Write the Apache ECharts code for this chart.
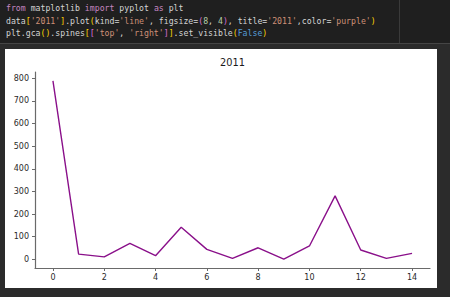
<!DOCTYPE html>
<html>
<head>
<meta charset="utf-8">
<script src="https://cdn.jsdelivr.net/npm/echarts@6/dist/echarts.min.js"></script>
<style>
html,body{margin:0;padding:0;background:#2b2b2b;}
#chart{width:450px;height:297px;}
</style>
</head>
<body>
<div id="chart"></div>
<script>
// Data
const xValues = [0, 1, 2, 3, 4, 5, 6, 7, 8, 9, 10, 11, 12, 13, 14];
const values2011 = [788, 23, 11, 70, 16, 142, 44, 4, 51, 1, 59, 280, 41, 4, 26];
const xTickLabels = [0, 2, 4, 6, 8, 10, 12, 14];
const yTickLabels = [0, 100, 200, 300, 400, 500, 600, 700, 800];
const chartTitle = '2011';

// matplotlib-like 5% margins
const xMinD = Math.min(...xValues), xMaxD = Math.max(...xValues);
const yMinD = Math.min(...values2011), yMaxD = Math.max(...values2011);
const xPad = (xMaxD - xMinD) * 0.05, yPad = (yMaxD - yMinD) * 0.05;

const chart = echarts.init(document.getElementById('chart'), null, {renderer: 'svg'});

const mono = '"DejaVu Sans Mono", "Liberation Mono", monospace';
const codeFs = 8.2;
const C = {kw:'#c586c0', tx:'#d4d4d4', st:'#ce9178', b1:'#ffd700', b2:'#da70d6', nm:'#b5cea8', bl:'#569cd6'};
function seg(s, k){ return '{' + k + '|' + s + '}'; }
const rich = {};
Object.keys(C).forEach(k => { rich[k] = {fill: C[k], fontFamily: mono, fontSize: codeFs}; });

const line1 = seg('from','kw') + seg(' matplotlib ','tx') + seg('import','kw') + seg(' pyplot ','tx') + seg('as','kw') + seg(' plt','tx');
const line2 = seg('data','tx') + seg('[','b1') + seg("'2011'",'st') + seg(']','b1') + seg('.plot','tx') + seg('(','b1') +
  seg('kind=','tx') + seg("'line'",'st') + seg(', figsize=','tx') + seg('(','b2') + seg('8','nm') + seg(', ','tx') + seg('4','nm') +
  seg(')','b2') + seg(', title=','tx') + seg("'2011'",'st') + seg(',color=','tx') + seg("'purple'",'st') + seg(')','b1');
const line3 = seg('plt.gca','tx') + seg('()','b1') + seg('.spines','tx') + seg('[','b1') + seg('[','b2') + seg("'top'",'st') +
  seg(', ','tx') + seg("'right'",'st') + seg(']','b2') + seg(']','b1') + seg('.set_visible','tx') + seg('(','b1') + seg('False','bl') + seg(')','b1');

const axisColor = '#6a6a6a';
const labelColor = '#2a2a2a';
const sansFont = '"DejaVu Sans", sans-serif';

chart.setOption({
  backgroundColor: '#2b2b2b',
  animation: false,
  graphic: [
    {type:'rect', z:-100, shape:{x:0,y:0,width:450,height:43}, style:{fill:'#1f1f1f'}},
    {type:'rect', z:-100, shape:{x:0,y:43,width:450,height:1}, style:{fill:'#454545'}},
    {type:'rect', z:-100, shape:{x:399,y:0,width:1,height:43}, style:{fill:'#3a3a3a'}},
    {type:'rect', z:-100, shape:{x:5,y:49,width:432,height:239}, style:{fill:'#ffffff'}},
    {type:'text', z:10, style:{x:6, y:8, text: line1, rich: rich, verticalAlign:'middle', textVerticalAlign:'middle'}},
    {type:'text', z:10, style:{x:6, y:20.6, text: line2, rich: rich, verticalAlign:'middle', textVerticalAlign:'middle'}},
    {type:'text', z:10, style:{x:6, y:33.2, text: line3, rich: rich, verticalAlign:'middle', textVerticalAlign:'middle'}},
    {type:'text', z:10, style:{x:232.5, y:62, text: chartTitle, fill:'#1a1a1a', font: '9.8px ' + sansFont, align:'center', verticalAlign:'middle', textAlign:'center', textVerticalAlign:'middle'}}
  ],
  grid: {left: 35, right: 20, top: 72, bottom: 29, containLabel: false},
  xAxis: {
    type: 'value',
    min: xMinD - xPad,
    max: xMaxD + xPad,
    splitLine: {show: false},
    axisLine: {show: true, onZero: false, lineStyle: {color: axisColor, width: 1.2}},
    axisTick: {show: true, length: 3, customValues: xTickLabels, lineStyle: {color: axisColor}},
    axisLabel: {customValues: xTickLabels, color: labelColor, fontSize: 8, fontFamily: sansFont, margin: 5}
  },
  yAxis: {
    type: 'value',
    min: yMinD - yPad,
    max: yMaxD + yPad,
    splitLine: {show: false},
    axisLine: {show: true, onZero: false, lineStyle: {color: axisColor, width: 1.2}},
    axisTick: {show: true, length: 3, customValues: yTickLabels, lineStyle: {color: axisColor}},
    axisLabel: {customValues: yTickLabels, color: labelColor, fontSize: 8, fontFamily: sansFont, margin: 6}
  },
  series: [{
    type: 'line',
    data: xValues.map((x, i) => [x, values2011[i]]),
    showSymbol: false,
    lineStyle: {color: '#8a108a', width: 1.4},
    itemStyle: {color: '#8a108a'}
  }]
});
</script>
</body>
</html>
